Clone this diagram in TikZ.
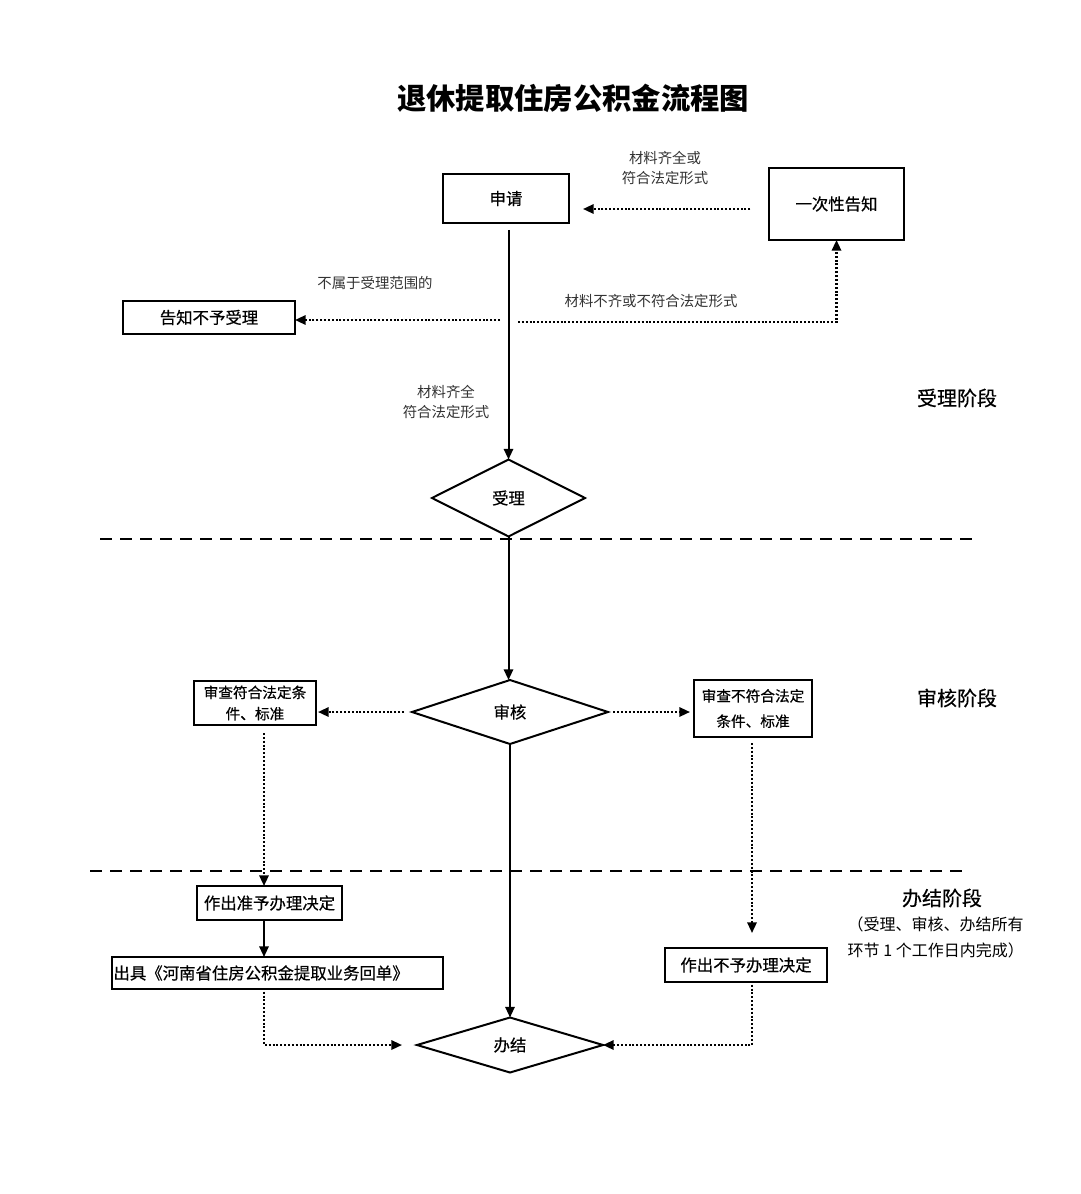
\documentclass[tikz,border=0pt]{standalone}
\usepackage{fontspec}
\setmainfont{Noto Sans CJK SC}
\newfontfamily\medfont{Noto Sans CJK SC}[FakeBold=0.5]
\usetikzlibrary{arrows.meta,shapes.geometric}
\begin{document}
\begin{tikzpicture}[x=0.75pt,y=-0.75pt,
  box/.style={draw,line width=1.5pt,inner sep=0pt,outer sep=0pt,font=\medfont\fontsize{12.3}{15}\selectfont,align=center},
  dia/.style={draw,diamond,line width=1.5pt,inner sep=0pt,outer sep=0pt,font=\medfont\fontsize{12.3}{15}\selectfont},
  lab/.style={font=\fontsize{10.8}{14.5}\selectfont,align=center,text=black!80},
  stage/.style={font=\medfont\fontsize{15}{18}\selectfont},
  solidarr/.style={line width=1.5pt,-{Triangle[length=8pt,width=7pt]}},
  dotarr/.style={line width=1.6pt,dash pattern=on 1.5pt off 1.4pt,-{Triangle[length=8pt,width=7pt]}},
  dashline/.style={line width=1.5pt,dash pattern=on 9pt off 6pt}]
\useasboundingbox[fill=white] (0,0) rectangle (1080,1194);

% title
\node[font=\fontsize{22}{26}\selectfont\bfseries] (title) at (573,98) {退休提取住房公积金流程图};

% boxes
\node[box,minimum width=94.5pt,minimum height=36.75pt] (shen) at (506,198.5) {申请};
\node[box,line width=2pt,minimum width=101.25pt,minimum height=54pt] (gaozhi) at (836.5,204) {一次性告知};
\node[box,minimum width=129pt,minimum height=24.75pt] (bushouli) at (209,317.5) {告知不予受理};
\node[dia,minimum width=114.75pt,minimum height=57.75pt] (shouli) at (508.5,498) {受理};
\node[dia,minimum width=147pt,minimum height=48pt] (shenhe) at (510,712) {审核};
\node[dia,minimum width=139.5pt,minimum height=41.25pt] (banjie) at (510,1045) {办结};
\node[box,font=\medfont\fontsize{11}{16}\selectfont,minimum width=91.5pt,minimum height=33pt] (fuhe) at (255,703) {审查符合法定条\\件、标准};
\node[box,font=\medfont\fontsize{11}{19}\selectfont,minimum width=88.5pt,minimum height=42.75pt] (bufuhe) at (753,708.5) {审查不符合法定\\条件、标准};
\node[box,minimum width=108.75pt,minimum height=25.5pt] (zhunyu) at (269.5,903) {作出准予办理决定};
\node[box,minimum width=248.25pt,minimum height=24pt,align=left,text width=246pt,inner xsep=1pt] (chuju) at (277.5,973) {出具《河南省住房公积金提取业务回单》};
\node[box,minimum width=121.5pt,minimum height=25.5pt] (buyu) at (746,965) {作出不予办理决定};

% labels
\node[lab] (l1) at (665,168) {材料齐全或\\符合法定形式};
\node[lab] (l2) at (375,283) {不属于受理范围的};
\node[lab] (l3) at (651,301) {材料不齐或不符合法定形式};
\node[lab] (l4) at (446,402) {材料齐全\\符合法定形式};
\node[stage] (s1) at (957,398) {受理阶段};
\node[stage] (s2) at (957,698) {审核阶段};
\node[stage] (s3) at (942,898) {办结阶段};
\node[font=\fontsize{12}{19}\selectfont,align=left,anchor=west] (note) at (843,937.5) {（受理、审核、办结所有\\环节 1 个工作日内完成）};

% helper coordinates
\coordinate (r1) at (0,209);
\coordinate (c1) at (500,320);
\coordinate (c2) at (518,322);
\coordinate (colM) at (508.5,0);
\coordinate (colL) at (264,0);
\coordinate (colR) at (752,0);
\coordinate (d1a) at (100,539);
\coordinate (d1b) at (975,539);
\coordinate (d2a) at (90,871);
\coordinate (d2b) at (965,871);

% dashed separators
\draw[dashline] (d1a) -- (d1b);
\draw[dashline] (d2a) -- (d2b);

% connectors
\draw[dotarr,shorten <=14pt,shorten >=10.5pt] (gaozhi.west |- r1) -- (shen.east |- r1);
\draw[solidarr,shorten <=5.25pt] (shen.south -| colM) -- (shouli.north);
\draw[dotarr] (c1) -- (c1 -| bushouli.east);
\draw[dotarr] (c2) -| (gaozhi.south);
\draw[solidarr] (shouli.south) -- (shenhe.north -| colM);
\draw[dotarr,shorten <=6pt,shorten >=1.5pt] (shenhe.west) -- (shenhe.west -| fuhe.east);
\draw[dotarr,shorten <=4pt,shorten >=3pt] (shenhe.east) -- (shenhe.east -| bufuhe.west);
\draw[dotarr,shorten <=6pt] (fuhe.south -| colL) -- (zhunyu.north -| colL);
\draw[solidarr] (zhunyu.south -| colL) -- (chuju.north -| colL);
\draw[dotarr,shorten <=2pt,shorten >=11.25pt] (chuju.south -| colL) |- (banjie.west);
\draw[solidarr] (shenhe.south) -- (banjie.north);
\draw[dotarr,shorten <=4.5pt,shorten >=11.25pt] (bufuhe.south -| colR) -- (buyu.north -| colR);
\draw[dotarr,shorten <=2pt] (buyu.south -| colR) |- (banjie.east);
\end{tikzpicture}
\end{document}
